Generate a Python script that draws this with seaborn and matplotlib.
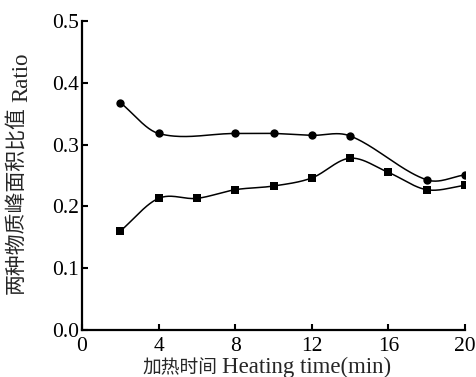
import seaborn as sns
import matplotlib.pyplot as plt
import numpy as np
import pandas as pd

# values
time_circle = [2, 4, 8, 10, 12, 14, 18, 20]
ratio_circle = [0.368, 0.318, 0.318, 0.318, 0.315, 0.314, 0.243, 0.251]
time_square = [2, 4, 6, 8, 10, 12, 14, 16, 18, 20]
ratio_square = [0.160, 0.213, 0.213, 0.227, 0.233, 0.246, 0.278, 0.255, 0.227, 0.234]
x_ticks = [0, 4, 8, 12, 16, 20]
y_ticks = [0.0, 0.1, 0.2, 0.3, 0.4, 0.5]


def smooth(x, y, n=40):
    # cubic Hermite curve through the points, only for the connecting line
    x = np.asarray(x, float)
    y = np.asarray(y, float)
    d = np.zeros_like(y)
    d[1:-1] = (y[2:] - y[:-2]) / (x[2:] - x[:-2])
    d[0] = (y[1] - y[0]) / (x[1] - x[0])
    d[-1] = (y[-1] - y[-2]) / (x[-1] - x[-2])
    xs_all, ys_all = [], []
    for i in range(len(x) - 1):
        h = x[i + 1] - x[i]
        t = np.linspace(0, 1, n)
        h00 = 2 * t**3 - 3 * t**2 + 1
        h10 = t**3 - 2 * t**2 + t
        h01 = -2 * t**3 + 3 * t**2
        h11 = t**3 - t**2
        xs_all.append(x[i] + t * h)
        ys_all.append(h00 * y[i] + h10 * h * d[i] + h01 * y[i + 1] + h11 * h * d[i + 1])
    return np.concatenate(xs_all), np.concatenate(ys_all)


sns.set_style('ticks')
plt.rcParams['font.family'] = ['Liberation Serif', 'Noto Sans CJK SC']
plt.rcParams['xtick.direction'] = 'in'
plt.rcParams['ytick.direction'] = 'in'

W, H = 476, 377
fig = plt.figure(figsize=(W / 100, H / 100), dpi=100)
ax = fig.add_axes([82 / W, 1 - 330 / H, (465 - 82) / W, (330 - 21) / H])

for xs, ys, mk, sz in [(time_circle, ratio_circle, 'o', 36), (time_square, ratio_square, 's', 40)]:
    sx, sy = smooth(xs, ys)
    sns.lineplot(x=sx, y=sy, ax=ax, color='black', linewidth=1.1, sort=False)
    sns.scatterplot(x=xs, y=ys, ax=ax, color='black', marker=mk, s=sz,
                    edgecolor='black', linewidth=0, zorder=3)

ax.set_xlim(0, 20)
ax.set_ylim(0, 0.5)
ax.set_xticks(x_ticks)
ax.set_yticks(y_ticks)
ax.set_yticklabels([f'{v:.1f}' for v in y_ticks])
ax.tick_params(labelsize=15.5, width=1.5, length=4, colors='black')
ax.tick_params(axis='x', pad=5)
ax.tick_params(axis='y', pad=2)
for s in ['top', 'right']:
    ax.spines[s].set_visible(False)
for s in ['left', 'bottom']:
    ax.spines[s].set_linewidth(1.6)
    ax.spines[s].set_color('black')
ax.set_xlabel('')
ax.set_ylabel('')

# axis titles: Chinese part and Latin part drawn at their own sizes
fig.text(217 / W, 3.5 / H, '加热时间', fontsize=13.5, ha='right', va='baseline')
fig.text(222 / W, 3.5 / H, 'Heating time(min)', fontsize=16.5, ha='left', va='baseline')
fig.text(16 / W, 1 - 200 / H, '两种物质峰面积比值', fontsize=15, rotation=90,
         ha='center', va='center')
fig.text(22 / W, 1 - 77 / H, 'Ratio', fontsize=16.5, rotation=90,
         ha='center', va='center')

fig.savefig('out.png', dpi=100)
